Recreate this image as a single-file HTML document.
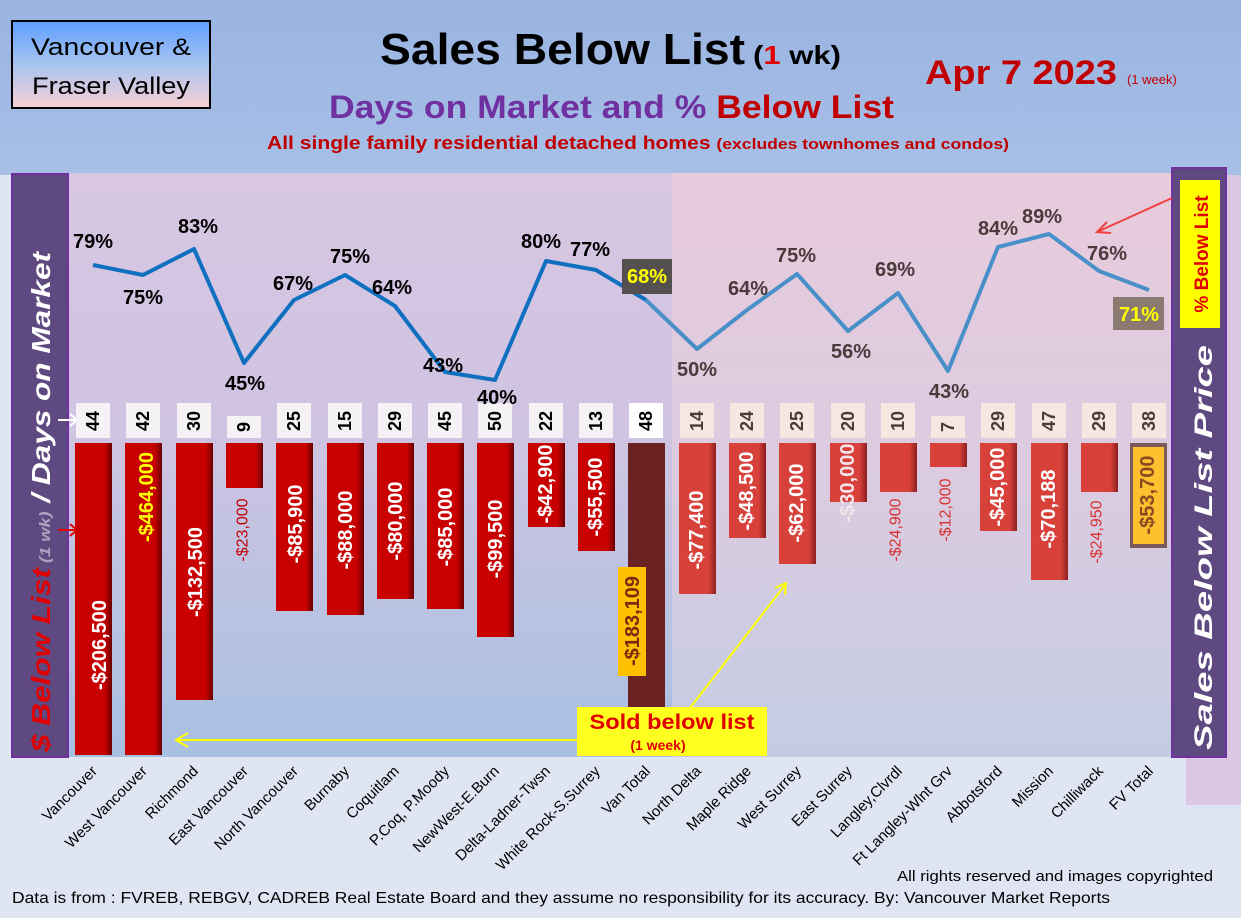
<!DOCTYPE html>
<html><head><meta charset="utf-8"><style>
html,body{margin:0;padding:0;width:1241px;height:918px;overflow:hidden;background:#dfe5f3}
svg{display:block;font-family:"Liberation Sans",sans-serif}
</style></head><body>
<svg width="1241" height="918" viewBox="0 0 1241 918" xmlns="http://www.w3.org/2000/svg">
<defs>
<linearGradient id="hdr" x1="0" y1="0" x2="0" y2="1"><stop offset="0" stop-color="#9ab4e2"/><stop offset="1" stop-color="#a6bfe6"/></linearGradient>
<linearGradient id="plotL" x1="0" y1="0" x2="0" y2="1"><stop offset="0" stop-color="#d8c6e2"/><stop offset="0.45" stop-color="#cfc4e2"/><stop offset="1" stop-color="#a8c0e2"/></linearGradient>
<linearGradient id="plotR" x1="0" y1="0" x2="0" y2="1"><stop offset="0" stop-color="#e8cbdc"/><stop offset="0.5" stop-color="#dccbe0"/><stop offset="1" stop-color="#c4cce2"/></linearGradient>
<linearGradient id="reg" x1="0" y1="0" x2="0" y2="1"><stop offset="0" stop-color="#5e9eff"/><stop offset="0.5" stop-color="#a8c4f0"/><stop offset="1" stop-color="#f8d0d4"/></linearGradient>
<linearGradient id="barL" x1="0" y1="0" x2="1" y2="0"><stop offset="0" stop-color="#c80000"/><stop offset="0.8" stop-color="#c80000"/><stop offset="1" stop-color="#6a0000"/></linearGradient>
<linearGradient id="barR" x1="0" y1="0" x2="1" y2="0"><stop offset="0" stop-color="#d8403a"/><stop offset="0.8" stop-color="#d8403a"/><stop offset="1" stop-color="#8a2020"/></linearGradient>
</defs>
<rect x="0" y="0" width="1241" height="165" fill="url(#hdr)"/>
<rect x="0" y="165" width="1241" height="10" fill="#a8c0e6"/>
<rect x="1186" y="175" width="55" height="630" fill="#dcc8e4"/>
<rect x="68" y="173" width="604" height="584" fill="url(#plotL)"/>
<rect x="672" y="173" width="500" height="584" fill="url(#plotR)"/>
<rect x="12" y="21" width="198" height="87" fill="url(#reg)" stroke="#000" stroke-width="2"/>
<text x="111" y="55" font-size="24" text-anchor="middle" textLength="160" lengthAdjust="spacingAndGlyphs">Vancouver &amp;</text>
<text x="111" y="94" font-size="24" text-anchor="middle" textLength="158" lengthAdjust="spacingAndGlyphs">Fraser Valley</text>
<text x="380" y="64" font-size="44" font-weight="bold" textLength="365" lengthAdjust="spacingAndGlyphs">Sales Below List</text>
<text x="753" y="64" font-size="26" font-weight="bold" textLength="88" lengthAdjust="spacingAndGlyphs">(<tspan fill="#e00000">1</tspan> wk)</text>
<text x="925" y="84" font-size="34" font-weight="bold" fill="#c00000" textLength="192" lengthAdjust="spacingAndGlyphs">Apr 7  2023</text>
<text x="1127" y="84" font-size="13" fill="#c00000">(1 week)</text>
<text x="329" y="118" font-size="32" font-weight="bold" fill="#7030a0" textLength="565" lengthAdjust="spacingAndGlyphs">Days on Market and % <tspan fill="#c00000">Below List</tspan></text>
<text x="267" y="149" font-size="18" font-weight="bold" fill="#c00000" textLength="742" lengthAdjust="spacingAndGlyphs">All single family residential detached homes <tspan font-size="15">(excludes townhomes and condos)</tspan></text>
<rect x="12" y="174" width="56" height="583" fill="#5e4a80" stroke="#7030a0" stroke-width="2"/>
<text transform="translate(50,752) rotate(-90)" font-size="26" font-weight="bold" font-style="italic" fill="#fff" textLength="500" lengthAdjust="spacingAndGlyphs"><tspan fill="#e00000">$ Below List</tspan><tspan fill="#b0a0c0" font-size="15"> (1 wk)</tspan> / Days on Market</text>
<path d="M58 420 L76 420 M70 414 L77 420 L70 426" stroke="#fff" stroke-width="2" fill="none"/>
<path d="M58 530 L76 530 M70 524 L77 530 L70 536" stroke="#e00000" stroke-width="2" fill="none"/>
<rect x="1172" y="168" width="54" height="589" fill="#5e4a80" stroke="#7030a0" stroke-width="2"/>
<rect x="1180" y="180" width="40" height="148" fill="#ffff00"/>
<text transform="translate(1208,254) rotate(-90)" font-size="19" font-weight="bold" fill="#e00000" text-anchor="middle">% Below List</text>
<text transform="translate(1212,750) rotate(-90)" font-size="25" font-weight="bold" font-style="italic" fill="#fff" textLength="405" lengthAdjust="spacingAndGlyphs">Sales Below List Price</text>
<path d="M1172 198 L1097 232 M1107 222 L1097 232 L1111 233" stroke="#f04040" stroke-width="2" fill="none"/>
<g>
<rect x="75" y="443" width="37" height="312" fill="url(#barL)"/>
<rect x="125" y="443" width="37" height="312" fill="url(#barL)"/>
<rect x="176" y="443" width="37" height="257" fill="url(#barL)"/>
<rect x="226" y="443" width="37" height="45" fill="url(#barL)"/>
<rect x="276" y="443" width="37" height="168" fill="url(#barL)"/>
<rect x="327" y="443" width="37" height="172" fill="url(#barL)"/>
<rect x="377" y="443" width="37" height="156" fill="url(#barL)"/>
<rect x="427" y="443" width="37" height="166" fill="url(#barL)"/>
<rect x="477" y="443" width="37" height="194" fill="url(#barL)"/>
<rect x="528" y="443" width="37" height="84" fill="url(#barL)"/>
<rect x="578" y="443" width="37" height="108" fill="url(#barL)"/>
<rect x="628" y="443" width="37" height="312" fill="#6a2222"/>
<rect x="679" y="443" width="37" height="151" fill="url(#barR)"/>
<rect x="729" y="443" width="37" height="95" fill="url(#barR)"/>
<rect x="779" y="443" width="37" height="121" fill="url(#barR)"/>
<rect x="830" y="443" width="37" height="59" fill="url(#barR)"/>
<rect x="880" y="443" width="37" height="49" fill="url(#barR)"/>
<rect x="930" y="443" width="37" height="24" fill="url(#barR)"/>
<rect x="980" y="443" width="37" height="88" fill="url(#barR)"/>
<rect x="1031" y="443" width="37" height="137" fill="url(#barR)"/>
<rect x="1081" y="443" width="37" height="49" fill="url(#barR)"/>
<rect x="1130" y="443" width="37" height="105" fill="#7a5a5a"/>
<rect x="1133" y="447" width="31" height="97" fill="#ffc030"/>
<rect x="618" y="567" width="28" height="109" fill="#ffc000"/>
</g>
<g font-weight="bold" font-size="20" fill="#fff" text-anchor="middle">
<text transform="translate(100,645) rotate(-90)" dominant-baseline="central">-$206,500</text>
<text transform="translate(147,497) rotate(-90)" dominant-baseline="central" fill="#ffff00">-$464,000</text>
<text transform="translate(196,572) rotate(-90)" dominant-baseline="central">-$132,500</text>
<text transform="translate(243,530) rotate(-90)" dominant-baseline="central" fill="#c00000" font-size="16" font-weight="normal">-$23,000</text>
<text transform="translate(296,524) rotate(-90)" dominant-baseline="central">-$85,900</text>
<text transform="translate(346,530) rotate(-90)" dominant-baseline="central">-$88,000</text>
<text transform="translate(396,521) rotate(-90)" dominant-baseline="central">-$80,000</text>
<text transform="translate(446,527) rotate(-90)" dominant-baseline="central">-$85,000</text>
<text transform="translate(496,539) rotate(-90)" dominant-baseline="central">-$99,500</text>
<text transform="translate(546,484) rotate(-90)" dominant-baseline="central">-$42,900</text>
<text transform="translate(596,497) rotate(-90)" dominant-baseline="central">-$55,500</text>
<text transform="translate(633,621) rotate(-90)" dominant-baseline="central" fill="#7a2a10">-$183,109</text>
<text transform="translate(697,530) rotate(-90)" dominant-baseline="central">-$77,400</text>
<text transform="translate(747,491) rotate(-90)" dominant-baseline="central">-$48,500</text>
<text transform="translate(797,503) rotate(-90)" dominant-baseline="central">-$62,000</text>
<text transform="translate(848,483) rotate(-90)" dominant-baseline="central" fill="#f4e4ea">-$30,000</text>
<text transform="translate(896,530) rotate(-90)" dominant-baseline="central" fill="#d83030" font-size="16" font-weight="normal">-$24,900</text>
<text transform="translate(946,510) rotate(-90)" dominant-baseline="central" fill="#d83030" font-size="16" font-weight="normal">-$12,000</text>
<text transform="translate(998,487) rotate(-90)" dominant-baseline="central">-$45,000</text>
<text transform="translate(1049,509) rotate(-90)" dominant-baseline="central">-$70,188</text>
<text transform="translate(1097,532) rotate(-90)" dominant-baseline="central" fill="#d83030" font-size="16" font-weight="normal">-$24,950</text>
<text transform="translate(1148,495) rotate(-90)" dominant-baseline="central" fill="#8a4a20">-$53,700</text>
</g>
<g fill="#f4f2f4">
<rect x="76" y="403" width="34" height="35"/><rect x="126" y="403" width="34" height="35"/><rect x="177" y="403" width="34" height="35"/><rect x="227" y="416" width="34" height="22"/><rect x="277" y="403" width="34" height="35"/><rect x="328" y="403" width="34" height="35"/><rect x="378" y="403" width="34" height="35"/><rect x="428" y="403" width="34" height="35"/><rect x="478" y="403" width="34" height="35"/><rect x="529" y="403" width="34" height="35"/><rect x="579" y="403" width="34" height="35"/><rect x="629" y="403" width="34" height="35" fill="#fff"/>
</g>
<g fill="#f4e8e0">
<rect x="680" y="403" width="34" height="35"/><rect x="730" y="403" width="34" height="35"/><rect x="780" y="403" width="34" height="35"/><rect x="831" y="403" width="34" height="35"/><rect x="881" y="403" width="34" height="35"/><rect x="931" y="416" width="34" height="22"/><rect x="981" y="403" width="34" height="35"/><rect x="1032" y="403" width="34" height="35"/><rect x="1082" y="403" width="34" height="35"/><rect x="1132" y="403" width="34" height="35"/>
</g>
<g font-size="18" font-weight="bold" text-anchor="middle" fill="#000">
<text transform="translate(93,421) rotate(-90)" dominant-baseline="central">44</text>
<text transform="translate(143,421) rotate(-90)" dominant-baseline="central">42</text>
<text transform="translate(194,421) rotate(-90)" dominant-baseline="central">30</text>
<text transform="translate(244,427) rotate(-90)" dominant-baseline="central">9</text>
<text transform="translate(294,421) rotate(-90)" dominant-baseline="central">25</text>
<text transform="translate(345,421) rotate(-90)" dominant-baseline="central">15</text>
<text transform="translate(395,421) rotate(-90)" dominant-baseline="central">29</text>
<text transform="translate(445,421) rotate(-90)" dominant-baseline="central">45</text>
<text transform="translate(495,421) rotate(-90)" dominant-baseline="central">50</text>
<text transform="translate(546,421) rotate(-90)" dominant-baseline="central">22</text>
<text transform="translate(596,421) rotate(-90)" dominant-baseline="central">13</text>
<text transform="translate(646,421) rotate(-90)" dominant-baseline="central">48</text>
</g>
<g font-size="18" font-weight="bold" text-anchor="middle" fill="#4a3a3a">
<text transform="translate(697,421) rotate(-90)" dominant-baseline="central">14</text>
<text transform="translate(747,421) rotate(-90)" dominant-baseline="central">24</text>
<text transform="translate(797,421) rotate(-90)" dominant-baseline="central">25</text>
<text transform="translate(848,421) rotate(-90)" dominant-baseline="central">20</text>
<text transform="translate(898,421) rotate(-90)" dominant-baseline="central">10</text>
<text transform="translate(948,427) rotate(-90)" dominant-baseline="central">7</text>
<text transform="translate(998,421) rotate(-90)" dominant-baseline="central">29</text>
<text transform="translate(1049,421) rotate(-90)" dominant-baseline="central">47</text>
<text transform="translate(1099,421) rotate(-90)" dominant-baseline="central">29</text>
<text transform="translate(1149,421) rotate(-90)" dominant-baseline="central">38</text>
</g>
<polyline points="93,265 143,275 194,249 244,363 294,300 345,275 395,306 445,372 495,380 546,261 596,270 646,300" fill="none" stroke="#1070c0" stroke-width="4" stroke-linejoin="round"/>
<polyline points="646,300 697,349 747,310 797,274 848,331 898,293 948,371 998,247 1049,234 1099,271 1149,290" fill="none" stroke="#4a90c8" stroke-width="4" stroke-linejoin="round"/>
<rect x="622" y="259" width="50" height="35" fill="#555050"/>
<rect x="1113" y="297" width="51" height="33" fill="#8a7a70"/>
<g font-size="20" font-weight="bold" text-anchor="middle" fill="#000">
<text x="93" y="248">79%</text><text x="143" y="304">75%</text><text x="198" y="233">83%</text><text x="245" y="390">45%</text><text x="293" y="290">67%</text><text x="350" y="263">75%</text><text x="392" y="294">64%</text><text x="443" y="372">43%</text><text x="497" y="404">40%</text><text x="541" y="248">80%</text><text x="590" y="256">77%</text>
<text x="647" y="283" fill="#ffff00">68%</text>
</g>
<g font-size="20" font-weight="bold" text-anchor="middle" fill="#4a3a3a">
<text x="697" y="376">50%</text><text x="748" y="295">64%</text><text x="796" y="262">75%</text><text x="851" y="358">56%</text><text x="895" y="276">69%</text><text x="949" y="398">43%</text><text x="998" y="235">84%</text><text x="1042" y="223">89%</text><text x="1107" y="260">76%</text>
<text x="1139" y="321" fill="#ffff00">71%</text>
</g>
<path d="M577 740 L176 740 M188 733 L176 740 L188 747" stroke="#ffff00" stroke-width="2" fill="none"/>
<path d="M690 708 L785 585 M775 588 L786 583 L785 595" stroke="#ffff00" stroke-width="2" fill="none"/>
<rect x="577" y="707" width="190" height="49" fill="#ffff20"/>
<text x="672" y="729" font-size="21" font-weight="bold" fill="#e00000" text-anchor="middle" textLength="165" lengthAdjust="spacingAndGlyphs">Sold below list</text>
<text x="658" y="750" font-size="14" font-weight="bold" fill="#e00000" text-anchor="middle">(1 week)</text>
<g font-size="15" fill="#000" text-anchor="end">
<text transform="translate(98,772) rotate(-45)">Vancouver</text>
<text transform="translate(148,772) rotate(-45)">West Vancouver</text>
<text transform="translate(199,772) rotate(-45)">Richmond</text>
<text transform="translate(249,772) rotate(-45)">East Vancouver</text>
<text transform="translate(299,772) rotate(-45)">North Vancouver</text>
<text transform="translate(350,772) rotate(-45)">Burnaby</text>
<text transform="translate(400,772) rotate(-45)">Coquitlam</text>
<text transform="translate(450,772) rotate(-45)">P.Coq, P.Moody</text>
<text transform="translate(500,772) rotate(-45)">NewWest-E.Burn</text>
<text transform="translate(551,772) rotate(-45)">Delta-Ladner-Twsn</text>
<text transform="translate(601,772) rotate(-45)">White Rock-S.Surrey</text>
<text transform="translate(651,772) rotate(-45)">Van Total</text>
<text transform="translate(702,772) rotate(-45)">North Delta</text>
<text transform="translate(752,772) rotate(-45)">Maple Ridge</text>
<text transform="translate(802,772) rotate(-45)">West Surrey</text>
<text transform="translate(853,772) rotate(-45)">East Surrey</text>
<text transform="translate(903,772) rotate(-45)">Langley,Clvrdl</text>
<text transform="translate(953,772) rotate(-45)">Ft Langley-Wlnt Grv</text>
<text transform="translate(1003,772) rotate(-45)">Abbotsford</text>
<text transform="translate(1054,772) rotate(-45)">Mission</text>
<text transform="translate(1104,772) rotate(-45)">Chilliwack</text>
<text transform="translate(1154,772) rotate(-45)">FV Total</text>
</g>
<text x="897" y="881" font-size="15" fill="#000" textLength="316" lengthAdjust="spacingAndGlyphs">All rights reserved and  images copyrighted</text>
<text x="12" y="903" font-size="16" fill="#000" textLength="1098" lengthAdjust="spacingAndGlyphs">Data is from : FVREB, REBGV, CADREB Real Estate Board and they assume no responsibility for its accuracy. By: Vancouver Market Reports</text>
</svg>
</body></html>
